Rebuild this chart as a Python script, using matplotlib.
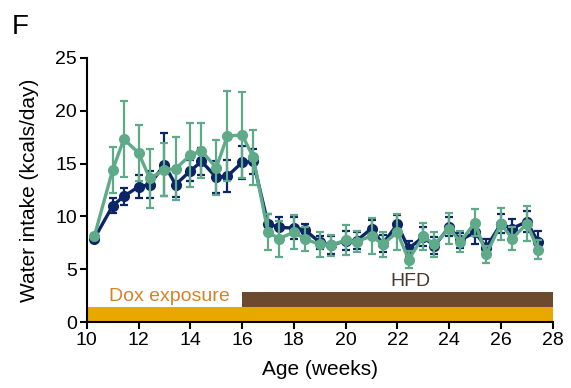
import numpy as np
import matplotlib.pyplot as plt

plt.rcParams['font.family'] = ['Liberation Sans', 'DejaVu Sans']

# measurement days (two per week), age in weeks
age = [10.29, 11, 11.43, 12, 12.43, 13, 13.43, 14, 14.43, 15, 15.43, 16, 16.43,
       17, 17.43, 18, 18.43, 19, 19.43, 20, 20.43, 21, 21.43, 22, 22.43,
       23, 23.43, 24, 24.43, 25, 25.43, 26, 26.43, 27, 27.43]

navy_mean = [7.9, 11.0, 11.9, 12.8, 13.0, 14.9, 13.0, 14.3, 15.2, 13.7, 13.8, 15.1, 15.2,
             9.3, 8.95, 8.9, 8.7, 7.55, 7.25, 7.7, 7.7, 8.85, 7.4, 9.25, 6.95,
             8.05, 7.2, 9.0, 7.75, 8.5, 7.05, 9.3, 8.85, 9.5, 7.6]
navy_sem = [0.3, 0.7, 0.8, 1.1, 1.3, 3.0, 1.2, 1.0, 1.3, 1.5, 1.5, 1.6, 1.2,
            0.95, 1.0, 1.0, 0.6, 0.6, 0.85, 0.9, 0.8, 0.85, 0.8, 0.9, 0.7,
            0.9, 0.8, 0.9, 0.7, 1.1, 0.8, 0.9, 0.9, 1.0, 1.0]

green_mean = [8.1, 14.4, 17.3, 16.0, 13.6, 14.4, 14.5, 15.8, 16.2, 14.6, 17.6, 17.7, 15.6,
              8.5, 7.9, 8.5, 7.85, 7.35, 7.25, 7.75, 7.6, 8.15, 7.35, 8.5, 5.9,
              8.1, 7.35, 8.85, 7.6, 9.4, 6.4, 9.3, 7.9, 9.3, 6.85]
green_sem = [0.2, 2.2, 3.6, 2.65, 2.8, 2.5, 3.0, 3.0, 2.6, 2.6, 4.3, 4.1, 2.6,
             1.7, 1.7, 1.6, 1.15, 1.2, 1.0, 1.4, 1.0, 1.7, 1.2, 1.7, 0.8,
             1.3, 1.2, 1.45, 1.0, 1.3, 0.8, 1.5, 1.1, 1.65, 0.9]

# treatment periods: (start, end, bottom, height)
dox_period = (10, 28, 0, 1.4)
hfd_period = (16, 28, 1.4, 1.45)

navy = '#0c2566'
green = '#5faa88'

fig = plt.figure(figsize=(5.71, 3.88), dpi=100)
ax = fig.add_axes([0.152, 0.170, 0.816, 0.681])

ax.errorbar(age, navy_mean, yerr=navy_sem, color=navy, lw=2.4, marker='o', ms=7,
            elinewidth=1.6, capsize=3, capthick=1.6, zorder=3)
ax.errorbar(age, green_mean, yerr=green_sem, color=green, lw=2.4, marker='o', ms=7,
            elinewidth=1.6, capsize=3, capthick=1.6, zorder=4)

ax.bar(dox_period[0], dox_period[3], width=dox_period[1] - dox_period[0],
       bottom=dox_period[2], align='edge', color='#e8a800', zorder=2)
ax.bar(hfd_period[0], hfd_period[3], width=hfd_period[1] - hfd_period[0],
       bottom=hfd_period[2], align='edge', color='#6b4a2e', zorder=2)
ax.text(13.2, 2.4, 'Dox exposure', color='#d4832a', fontsize=14,
        ha='center', va='center')
ax.text(22.5, 3.8, 'HFD', color='#4a3a30', fontsize=14,
        ha='center', va='center')

ax.set_xlim(10, 28)
ax.set_ylim(0, 25)
ax.set_xticks(np.arange(10, 29, 2))
ax.set_yticks(np.arange(0, 26, 5))
ax.tick_params(width=1.5, length=5, labelsize=14, pad=2)
for s in ['top', 'right']:
    ax.spines[s].set_visible(False)
for s in ['left', 'bottom']:
    ax.spines[s].set_linewidth(1.5)

ax.set_xlabel('Age (weeks)', fontsize=15, labelpad=8)
ax.set_ylabel('Water intake (kcals/day)', fontsize=15, labelpad=12)

fig.text(0.02, 0.965, 'F', fontsize=20, va='top', ha='left')

fig.savefig('out.png', dpi=100)
